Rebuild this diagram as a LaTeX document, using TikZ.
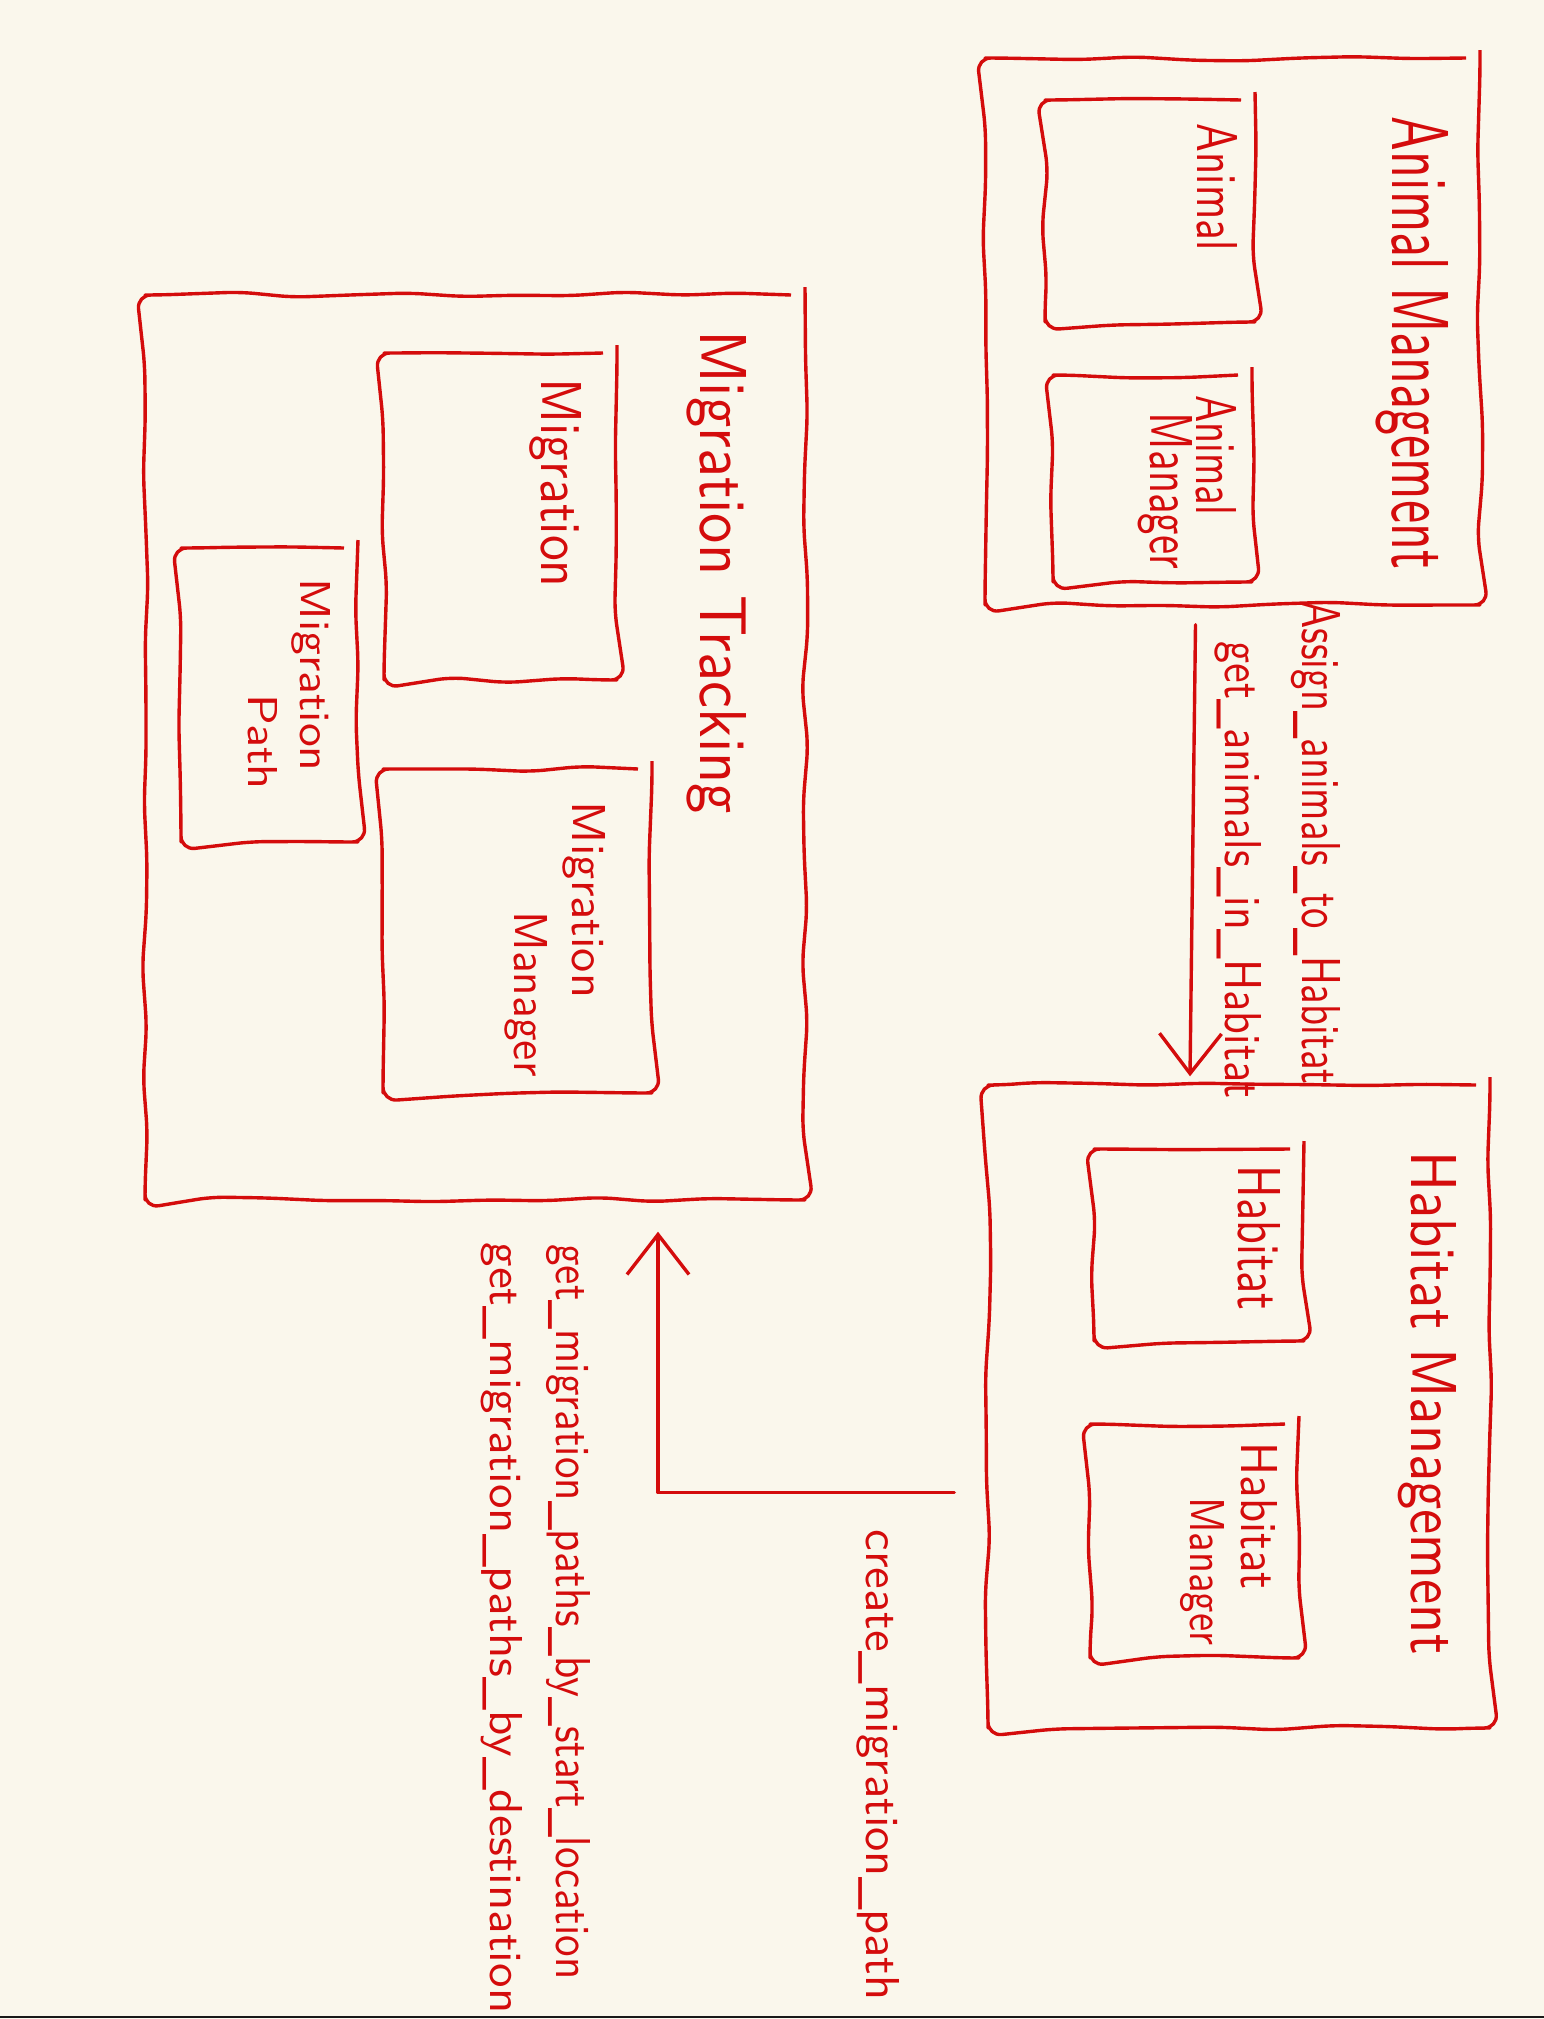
\documentclass[tikz,border=0pt]{standalone}
\usepackage{fontspec}
\usetikzlibrary{arrows.meta,decorations.pathmorphing}
\definecolor{paper}{RGB}{250,247,236}
\definecolor{ink}{RGB}{212,12,12}
\newcommand{\hw}[3]{\resizebox{#1pt}{#2pt}{\sffamily #3}}
\begin{document}
\begin{tikzpicture}[x=1pt,y=-1pt,
  box/.style={draw=ink, line width=3.4pt, line join=round,
    decorate, decoration={random steps, segment length=55pt, amplitude=3pt},
    rounded corners=14pt, inner sep=0pt},
  hand/.style={text=ink, rotate=-90, anchor=base, inner sep=0pt},
  arr/.style={draw=ink, line width=3.4pt, line cap=round, line join=round,
    -{Straight Barb[length=40pt,width=62pt]}}]
\pgfmathsetseed{7}
\fill[paper] (0,0) rectangle (1544,2019);
\useasboundingbox (0,0) rectangle (1544,2019);
\draw[line width=2pt, black!90] (0,2017) -- (1544,2017);

% Animal Management
\node[box, minimum width=495pt, minimum height=547pt] (AM) at (1232.5,331.5) {};
\node[box, minimum width=210pt, minimum height=222pt] (Animal) at (1150,211) {};
\node[box, minimum width=199pt, minimum height=207pt] (AnMgr) at (1152.5,478.5) {};
\node[hand] (tAM) at (1392,343) {\hw{452}{56}{Animal Management}};
\node[hand] (tAnimal) at (1197,187) {\hw{127}{40}{Animal}};
\node[hand] (tAnMgrA) at (1196,455) {\hw{120}{40}{Animal}};
\node[hand] (tAnMgrB) at (1150,491) {\hw{156}{42}{Manager}};

% Habitat Management
\node[box, minimum width=502pt, minimum height=643pt] (HM) at (1239,1406.5) {};
\node[box, minimum width=210pt, minimum height=192pt] (Habitat) at (1199,1245) {};
\node[box, minimum width=209pt, minimum height=234pt] (HMgr) at (1194.5,1541) {};
\node[hand] (tHM) at (1411,1403) {\hw{503}{45}{Habitat Management}};
\node[hand] (tHabitat) at (1238,1238) {\hw{145}{42}{Habitat}};
\node[hand] (tHMgrA) at (1241,1516) {\hw{147}{36}{Habitat}};
\node[hand] (tHMgrB) at (1190,1571) {\hw{148}{34}{Manager}};

% Migration Tracking
\node[box, minimum width=660pt, minimum height=905pt] (MT) at (475,747.5) {};
\node[box, minimum width=233pt, minimum height=327pt] (Mig) at (500.5,516.5) {};
\node[box, minimum width=269pt, minimum height=324pt] (MM) at (517.5,931) {};
\node[box, minimum width=177pt, minimum height=294pt] (MP) at (269.5,695) {};
\node[hand] (tMT) at (700,572) {\hw{484}{46}{Migration Tracking}};
\node[hand] (tMig) at (541,483) {\hw{209}{40}{Migration}};
\node[hand] (tMMA) at (572,900) {\hw{196}{33}{Migration}};
\node[hand] (tMMB) at (514,994) {\hw{165}{33}{Manager}};
\node[hand] (tMPA) at (300,675) {\hw{193}{30}{Migration}};
\node[hand] (tMPB) at (248,742) {\hw{95}{29}{Path}};

% connector AM -> HM
\draw[arr] ([xshift=-37pt,yshift=-18pt]AM.south) -- ([xshift=-49pt,yshift=7pt]HM.north);
\node[hand] (l1) at (1302,843) {\hw{483}{38}{Assign\_animals\_to\_Habitat}};
\node[hand] (l2) at (1225,870) {\hw{457}{36}{get\_animals\_in\_Habitat}};

% connector HM -> MT
\coordinate (c2) at ([xshift=-32pt,yshift=-86pt]HM.west);
\draw[arr] (c2) -| ([xshift=183pt,yshift=-30pt]MT.south);
\node[hand] (l3) at (866,1765) {\hw{471}{33}{create\_migration\_path}};
\node[hand] (l4) at (556,1612) {\hw{735}{34}{get\_migration\_paths\_by\_start\_location}};
\node[hand] (l5) at (490,1628) {\hw{771}{32}{get\_migration\_paths\_by\_destination}};
\end{tikzpicture}
\end{document}
